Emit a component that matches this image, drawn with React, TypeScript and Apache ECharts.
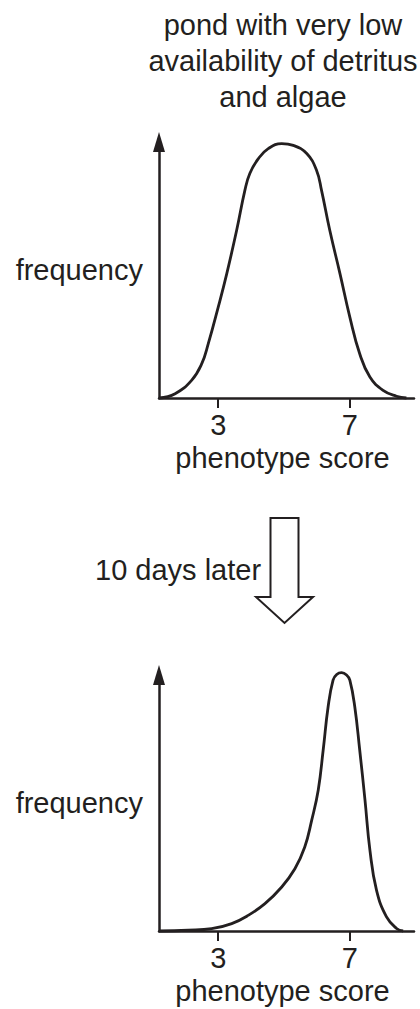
import React, { useEffect, useRef } from "react";
import * as echarts from "echarts";

const FONT = "'Liberation Sans', Arial, Helvetica, sans-serif";
const INK = "#231f20";

const titleLines = ["pond with very low", "availability of detritus", "and algae"];
const transitionLabel = "10 days later";
const xAxisName = "phenotype score";
const yAxisName = "frequency";
const tickValues = [3, 7];
const xMin = 1.2;
const xMax = 8.95;

const phenotypeBefore = [1.2, 1.69, 2.19, 2.5, 2.7, 3.0, 3.26, 3.56, 3.81, 3.96, 4.22, 4.52, 4.93, 5.28, 5.69, 5.99, 6.14, 6.39, 6.7, 7.0, 7.3, 7.61, 8.01, 8.42, 8.72];
const frequencyBefore = [0, 1.7, 6.9, 13.4, 21.3, 35.5, 48.6, 65.5, 81.1, 87.7, 93.5, 97.4, 99.4, 98.7, 95.5, 88.9, 81.1, 65.5, 48.6, 31.6, 17.3, 8.2, 3.0, 0.7, 0];

const phenotypeAfter = [1.2, 2.09, 2.8, 3.41, 3.91, 4.42, 4.93, 5.33, 5.63, 5.84, 6.04, 6.19, 6.34, 6.49, 6.6, 6.75, 6.9, 7.0, 7.15, 7.3, 7.46, 7.61, 7.81, 8.11, 8.42, 8.62];
const frequencyAfter = [0, 0.3, 0.9, 2.9, 6.1, 10.7, 17.2, 24.3, 32.8, 43.2, 55.1, 70.7, 87.6, 98, 100.2, 100.9, 100, 98, 87.6, 70.7, 51.2, 31.6, 16, 5.6, 1.0, 0];

function pairs(xs: number[], ys: number[]) {
  return xs.map((x, i) => [x, ys[i]]);
}

function xAxisFor(gridIndex: number) {
  return {
    type: "value",
    gridIndex,
    min: xMin,
    max: xMax,
    name: xAxisName,
    nameLocation: "middle",
    nameGap: 45,
    nameTextStyle: { fontFamily: FONT, fontSize: 29, color: INK, padding: [0, 8, 0, 0] },
    axisLine: { show: true, onZero: false, lineStyle: { color: INK, width: 2.5 } },
    axisTick: { show: true, customValues: tickValues, length: 10, lineStyle: { color: INK, width: 2 } },
    axisLabel: { show: true, customValues: tickValues, margin: 12, fontFamily: FONT, fontSize: 29, color: INK },
    splitLine: { show: false },
  };
}

function yAxisFor(gridIndex: number) {
  return {
    type: "value",
    gridIndex,
    min: 0,
    max: 100,
    name: yAxisName,
    nameLocation: "middle",
    nameRotate: 0,
    nameGap: 16,
    nameTextStyle: { fontFamily: FONT, fontSize: 29, color: INK, padding: [0, 0, 16, 0] },
    axisLine: {
      show: true,
      onZero: false,
      symbol: ["none", "triangle"],
      symbolSize: [12, 20],
      lineStyle: { color: INK, width: 2.5 },
    },
    axisTick: { show: false },
    axisLabel: { show: false },
    splitLine: { show: false },
  };
}

function seriesFor(idx: number, xs: number[], ys: number[]) {
  return {
    type: "line",
    xAxisIndex: idx,
    yAxisIndex: idx,
    data: pairs(xs, ys),
    smooth: 0.45,
    showSymbol: false,
    clip: false,
    lineStyle: { color: INK, width: 2.8 },
    silent: true,
  };
}

export default function App() {
  const ref = useRef<HTMLDivElement>(null);
  useEffect(() => {
    document.body.style.margin = "0";
    if (!ref.current) return;
    const chart = echarts.init(ref.current, null, { renderer: "svg" });
    const cx = 284.5;
    chart.setOption({
      animation: false,
      backgroundColor: "#ffffff",
      title: {
        text: titleLines.join("\n"),
        left: 283,
        top: 7,
        textAlign: "center",
        padding: 0,
        textStyle: { fontFamily: FONT, fontSize: 29, fontWeight: "normal", color: INK, lineHeight: 36 },
      },
      grid: [
        { left: 159, top: 142, width: 255, height: 256 },
        { left: 159, top: 675, width: 255, height: 256 },
      ],
      xAxis: [xAxisFor(0), xAxisFor(1)],
      yAxis: [yAxisFor(0), yAxisFor(1)],
      series: [seriesFor(0, phenotypeBefore, frequencyBefore), seriesFor(1, phenotypeAfter, frequencyAfter)],
      graphic: [
        {
          type: "text",
          x: 95,
          y: 570,
          style: { text: transitionLabel, fontFamily: FONT, fontSize: 29, fill: INK, verticalAlign: "middle", align: "left" },
        },
        {
          type: "polygon",
          shape: {
            points: [
              [cx - 14, 518],
              [cx + 14, 518],
              [cx + 14, 597],
              [cx + 28.5, 597],
              [cx, 623],
              [cx - 28.5, 597],
              [cx - 14, 597],
            ],
          },
          style: { fill: "#ffffff", stroke: INK, lineWidth: 2, lineJoin: "miter" },
        },
      ],
    });
    return () => chart.dispose();
  }, []);
  return <div ref={ref} style={{ position: "absolute", left: 0, top: 0, width: 420, height: 1009 }} />;
}
